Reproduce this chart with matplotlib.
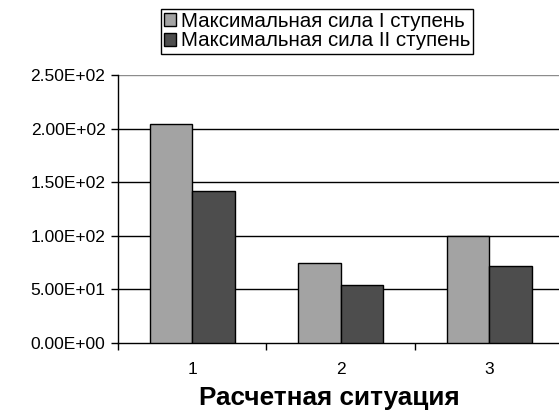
import matplotlib
matplotlib.use("Agg")
import matplotlib.pyplot as plt
import numpy as np
from matplotlib.ticker import FixedLocator, FuncFormatter

# Расчетные ситуации и максимальные силы по ступеням
situations = ["1", "2", "3"]
force_stage1 = [204, 75, 100]
force_stage2 = [142, 54, 72]
labels = ["Максимальная сила I ступень", "Максимальная сила II ступень"]
y_ticks = [0, 50, 100, 150, 200, 250]

plt.rcParams["font.family"] = ["Liberation Sans", "DejaVu Sans"]

fig = plt.figure(figsize=(5.59, 4.12), dpi=100, facecolor="white")
ax = fig.add_axes([0.211, 0.1675, 0.797, 0.650])

x = np.arange(1, len(situations) + 1)
w = 0.285
ax.bar(x - w / 2, force_stage1, w, color="#a3a3a3", edgecolor="black", linewidth=1.0,
       label=labels[0], zorder=3)
ax.bar(x + w / 2, force_stage2, w, color="#4d4d4d", edgecolor="black", linewidth=1.0,
       label=labels[1], zorder=3)

ax.set_xlim(0.5, len(situations) + 0.5)
ax.set_ylim(0, 250)
ax.set_yticks(y_ticks)
ax.yaxis.set_major_formatter(FuncFormatter(lambda v, _: f"{v:.2E}"))

ax.set_xticks(x)
ax.set_xticklabels(situations)
ax.xaxis.set_minor_locator(FixedLocator(np.arange(0.5, len(situations) + 1, 1.0)))
ax.tick_params(axis="x", which="major", length=0, pad=14, labelsize=12.5)
ax.tick_params(axis="x", which="minor", length=5, width=1, direction="out")
ax.tick_params(axis="y", length=5, width=1, direction="out", pad=4, labelsize=12.5)

# горизонтальные линии сетки
for v in y_ticks[1:-1]:
    ax.axhline(v, color="black", linewidth=1.0, zorder=1)
ax.axhline(y_ticks[-1], color="#8c8c8c", linewidth=1.0, zorder=1)

for side in ("top", "right"):
    ax.spines[side].set_visible(False)
ax.spines["left"].set_linewidth(1.0)
ax.spines["bottom"].set_linewidth(1.0)

ax.set_xlabel("Расчетная ситуация", fontsize=18.8, fontweight="bold")
ax.xaxis.set_label_coords(0.474, -0.16)

fig.legend(loc="upper left", bbox_to_anchor=(161 / 559, 1 - 9 / 412), fontsize=14.8,
           frameon=True, fancybox=False, framealpha=1, edgecolor="black",
           handlelength=0.6, handleheight=0.6, handletextpad=0.2,
           borderpad=0.15, labelspacing=0.02, borderaxespad=0)

fig.savefig("out.png", dpi=100)
